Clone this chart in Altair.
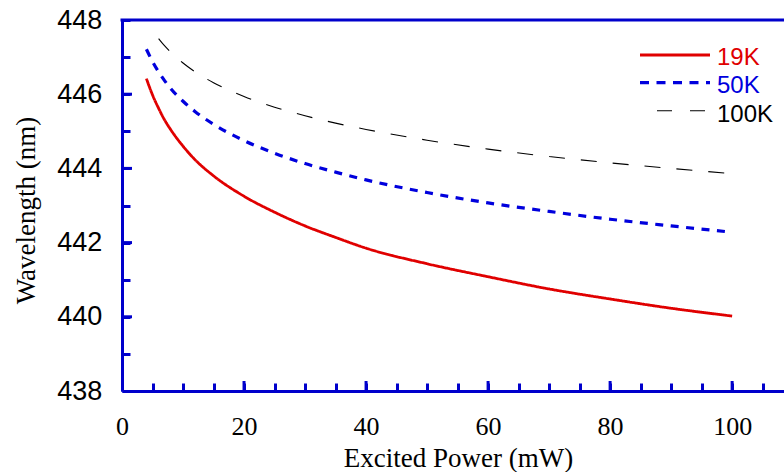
import altair as alt
import pandas as pd

# ---- data ----
series_names = ["19K", "50K", "100K"]
series_colors = ["#e00000", "#0000dd", "#000000"]

power_19k = [4, 5, 6, 7, 8, 10, 12, 15, 20, 25, 30, 35, 40, 50, 60, 70, 80, 90, 100]
wl_19k = [446.42, 445.98, 445.62, 445.30, 445.04, 444.60, 444.23, 443.80, 443.25,
          442.82, 442.45, 442.14, 441.85, 441.43, 441.08, 440.75, 440.48, 440.23, 440.02]

power_50k = [4, 5, 6, 7, 8, 10, 12, 15, 20, 25, 30, 35, 40, 50, 60, 70, 80, 90, 100]
wl_50k = [447.21, 446.88, 446.60, 446.36, 446.15, 445.81, 445.53, 445.19, 444.75,
          444.41, 444.13, 443.90, 443.69, 443.35, 443.07, 442.84, 442.63, 442.45, 442.28]

power_100k = [6, 7, 8, 10, 12, 15, 20, 25, 30, 35, 40, 50, 60, 70, 80, 90, 100]
wl_100k = [447.50, 447.30, 447.13, 446.84, 446.60, 446.31, 445.94, 445.65, 445.42,
           445.22, 445.05, 444.76, 444.52, 444.32, 444.15, 444.00, 443.86]

x_ticks = list(range(0, 106, 5))
x_major = [0, 20, 40, 60, 80, 100]
y_ticks = [438 + 0.5 * i for i in range(21)]
y_major = [438, 440, 442, 444, 446, 448]

AXIS_BLUE = "#0000cc"
W, H = 662, 371

def in_list(vals):
    return "indexof([" + ",".join(str(v) for v in vals) + "], datum.value) >= 0"

x_axis = alt.Axis(
    values=x_ticks, format="d",
    labelExpr=in_list(x_major) + " ? datum.label : ''",
    tickSize=alt.ExprRef(expr="-8"),
    tickWidth=3, tickColor=AXIS_BLUE,
    domainColor=AXIS_BLUE, domainWidth=3,
    grid=False, labelFlush=False, labelOverlap=False,
    labelFont="Liberation Serif", labelFontSize=26, labelColor="black",
    labelBaseline="alphabetic", labelPadding=51,
    title="Excited Power (mW)", titleFont="Liberation Serif", titleFontSize=27,
    titleFontWeight="normal", titleColor="black",
    titleX=336, titleY=75, titleBaseline="alphabetic", titleAlign="center",
)

y_axis = alt.Axis(
    values=y_ticks, format="d",
    labelExpr=in_list(y_major) + " ? datum.label : ''",
    tickSize=alt.ExprRef(expr="-8"),
    tickWidth=3, tickColor=AXIS_BLUE,
    domainColor=AXIS_BLUE, domainWidth=3,
    grid=False, labelFlush=False, labelOverlap=False,
    labelFont="Liberation Sans", labelFontSize=27, labelColor="black",
    labelAlign="right", labelBaseline="middle", labelPadding=28.3,
    title="Wavelength (nm)", titleFont="Liberation Serif", titleFontSize=27,
    titleFontWeight="normal", titleColor="black", titleAngle=270,
    titleX=-88, titleY=190, titleBaseline="alphabetic", titleAlign="center",
)

x_scale = alt.Scale(domain=[0, 108.5], nice=False, zero=False)
y_scale = alt.Scale(domain=[438, 448], nice=False, zero=False)

def curve(xs, ys, color, width, dash):
    d = pd.DataFrame({"power": xs, "wl": ys})
    return alt.Chart(d).mark_line(interpolate="monotone", color=color, strokeWidth=width,
                                  strokeDash=dash).encode(
        x=alt.X("power:Q", scale=x_scale, axis=x_axis),
        y=alt.Y("wl:Q", scale=y_scale, axis=y_axis),
    )

c19 = curve(power_19k, wl_19k, series_colors[0], 2.8, [1, 0])
c50 = curve(power_50k, wl_50k, series_colors[1], 3.2, [8, 7.5])
c100 = curve(power_100k, wl_100k, series_colors[2], 1.1, [16, 16])

# longer major ticks, pointing inward
x_major_ticks = alt.Chart(pd.DataFrame({"power": x_major[1:]})).mark_rule(
    color=AXIS_BLUE, strokeWidth=3).encode(
    x=alt.X("power:Q", scale=x_scale, axis=x_axis),
    y=alt.value(H), y2=alt.value(H - 10),
)
y_major_ticks = alt.Chart(pd.DataFrame({"wl": y_major[1:-1]})).mark_rule(
    color=AXIS_BLUE, strokeWidth=3).encode(
    y=alt.Y("wl:Q", scale=y_scale, axis=y_axis),
    x=alt.value(0), x2=alt.value(10),
)

top_border = alt.Chart(pd.DataFrame({"a": [0]})).mark_rule(color=AXIS_BLUE, strokeWidth=3).encode(
    x=alt.value(-1.5), x2=alt.value(W), y=alt.value(0)
)

# manual legend
leg_df = pd.DataFrame({"series": series_names})
def leg_item(i, x1, x2, ly, ty, dash, width):
    d = leg_df.iloc[[i]]
    rule = alt.Chart(d).mark_rule(color=series_colors[i], strokeWidth=width, strokeDash=dash).encode(
        x=alt.value(x1), x2=alt.value(x2), y=alt.value(ly))
    txt = alt.Chart(d).mark_text(align="left", baseline="alphabetic", font="Liberation Sans",
                                 fontSize=24, color=series_colors[i]).encode(
        x=alt.value(595), y=alt.value(ty), text="series:N")
    return rule + txt

legend = (leg_item(0, 518, 588, 35, 45, [1, 0], 2.8)
          + leg_item(1, 518, 588, 62.7, 73.3, [9, 7.5], 3.2)
          + leg_item(2, 535, 583, 90.7, 101.7, [15, 18], 1.1))

chart = alt.layer(c19, c50, c100, x_major_ticks, y_major_ticks, top_border, legend).properties(
    width=W, height=H,
    padding={"left": 122, "top": 20, "right": 0, "bottom": 81},
    autosize=alt.AutoSizeParams(type="none"),
    background="white",
).configure_view(stroke=None)

chart.save("out.html", embed_options={"renderer": "svg", "actions": False})
